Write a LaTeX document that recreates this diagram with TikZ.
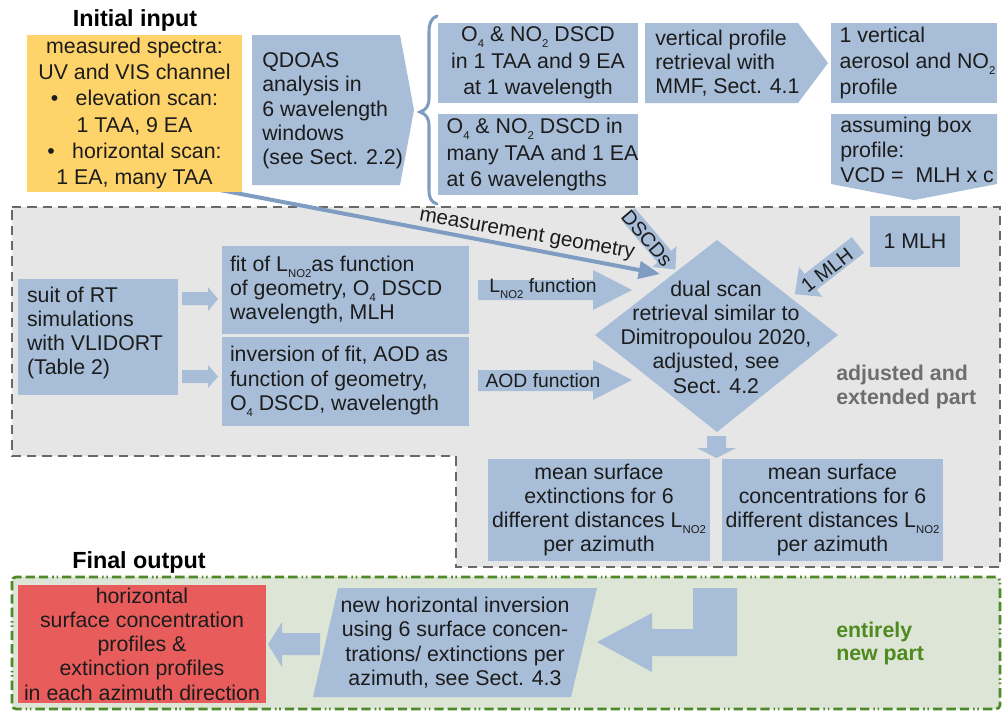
\documentclass[tikz,border=0pt]{standalone}
\usepackage{fontspec}
\setmainfont{Liberation Sans}
\usetikzlibrary{arrows.meta}
\definecolor{boxblue}{HTML}{A8BED8}
\definecolor{lineblue}{HTML}{7F9DC2}
\definecolor{ylw}{HTML}{FDD36A}
\definecolor{redbox}{HTML}{E85C5C}
\definecolor{grayfill}{HTML}{E6E6E6}
\definecolor{grayline}{HTML}{686868}
\definecolor{greenline}{HTML}{4F8A2A}
\definecolor{greenfill}{HTML}{DCE5D6}
\definecolor{greentext}{HTML}{4E8A1E}
\definecolor{graytext}{HTML}{6E6E6E}
\definecolor{txt}{HTML}{1C1C1C}
\newcommand{\lsub}[1]{\raisebox{-4.5pt}{\fontsize{8.5}{8.5}\selectfont #1}}
\tikzset{
  body/.style={font=\fontsize{16}{18.2}\selectfont, text=txt, inner sep=0pt},
  wide/.style={font=\fontsize{16}{19.8}\selectfont},
  box/.style={body, fill=boxblue, inner sep=0pt},
  lbl/.style={font=\fontsize{14.5}{16}\selectfont, text=txt, inner sep=0pt},
  title/.style={font=\fontsize{17.5}{20}\selectfont\bfseries, text=black, inner sep=0pt},
  blk/.style={fill=boxblue},
  grayregion/.style={draw=grayline, fill=grayfill, line width=2.2pt, dash pattern=on 7pt off 4.5pt},
  greenregion/.style={draw=greenline, fill=greenfill, line width=2pt, rounded corners=3pt,
    dash pattern=on 7pt off 3pt on 7pt off 3pt on 7pt off 3pt on 1.2pt off 2pt on 1.2pt off 3pt},
  bracestyle/.style={draw=lineblue, line width=2.3pt, line cap=round},
}
\begin{document}
\begin{tikzpicture}[x=0.75pt,y=-0.75pt]
\useasboundingbox (0,0) rectangle (1003,714);
\fill[white] (0,0) rectangle (1003,714);

% regions
\draw[grayregion] (12,207) -- (1000,207) -- (1000,567) -- (456,567) -- (456,456) -- (12,456) -- cycle;
\draw[greenregion] (12,577) rectangle (1000,709);

% titles
\node[title] (tin) at (135,20) {Initial input};
\node[title] (tout) at (139,562) {Final output};

% measurement geometry connector
\coordinate (mgs) at (220,190);
\coordinate (mge) at (660,274);
\draw[lineblue, line width=3pt, -{Triangle[length=16pt,width=13pt]}] (mgs) -- (mge);
\node[font=\fontsize{15.5}{17}\selectfont, text=txt, inner sep=0pt, rotate=-10] (mglbl) at (527,235) {measurement geometry};

% input box
\node[body, fill=ylw, minimum width=161.25pt, minimum height=117.75pt, align=center,
  font=\fontsize{16}{19.6}\selectfont] (inp) at (134.5,113.5)
  {measured spectra:\\UV and VIS channel\\\textbullet\hspace{13pt}elevation scan:\\1 TAA, 9 EA\\\textbullet\hspace{13pt}horizontal scan:\\1 EA, many TAA};

% QDOAS chevron
\fill[boxblue] (252,35) -- (400,35) -- (414,110) -- (400,185) -- (252,185) -- cycle;
\node[body, anchor=west, align=left] (qdoas) at (262,111)
  {QDOAS\\analysis in\\6 wavelength\\windows\\(see Sect. 2.2)};

% brace
\draw[bracestyle] (437,16) .. controls (431,18) and (429,24) .. (429,32) -- (429,98)
  .. controls (429,106) and (426,110) .. (420,112) .. controls (426,114) and (429,118) .. (429,126)
  -- (429,190) .. controls (429,198) and (431,202) .. (437,204);

% top row
\node[box, wide, minimum width=150pt, minimum height=60pt, align=center] (dA) at (538,63)
  {O\lsub{4} \& NO\lsub{2} DSCD\\in 1 TAA and 9 EA\\at 1 wavelength};
\node[box, minimum width=150pt, minimum height=60.75pt] (dB) at (538,154.5) {};
\node[body, wide, anchor=west, align=left] (dBt) at ([xshift=6.5pt]dB.west)
  {O\lsub{4} \& NO\lsub{2} DSCD in\\many TAA and 1 EA\\at 6 wavelengths};
\fill[boxblue] (645,23) -- (798,23) -- (828,63) -- (798,103) -- (645,103) -- cycle;
\node[body, anchor=west, align=left] (vp) at (655,63)
  {vertical profile\\retrieval with\\MMF, Sect. 4.1};
\node[box, minimum width=124.5pt, minimum height=60pt] (vprof) at (914,63) {};
\node[body, wide, anchor=west, align=left] (vproft) at ([xshift=6.5pt]vprof.west)
  {1 vertical\\aerosol and NO\lsub{2}\\profile};
\fill[boxblue] (831,114) -- (997,114) -- (997,184) -- (914,200) -- (831,184) -- cycle;
\node[body, anchor=west, align=left, font=\fontsize{16}{19}\selectfont] (boxp) at (840,150)
  {assuming box\\profile:\\VCD =\ \ MLH x c};

% MLH
\node[box, minimum width=67.5pt, minimum height=38.25pt, align=center] (mlh) at (915,241.5) {1 MLH};
\begin{scope}[shift={(858,245)}, rotate=217.9]
  \fill[boxblue] (0,-10) -- (60,-10) -- (60,-19) -- (80,0) -- (60,19) -- (60,10) -- (0,10) -- cycle;
\end{scope}
\node[lbl, font=\fontsize{15}{16}\selectfont, rotate=37.9] (mlhlbl) at (827,270) {1 MLH};

% DSCDs
\begin{scope}[shift={(628,214)}, rotate=-49.5]
  \fill[boxblue] (0,-9) -- (56,-9) -- (56,-16) -- (73,0) -- (56,16) -- (56,9) -- (0,9) -- cycle;
\end{scope}
\node[lbl, font=\fontsize{15}{16}\selectfont, rotate=-49.5] (dscdlbl) at (647,238) {DSCDs};

% RT part
\node[box, minimum width=120pt, minimum height=87pt] (suit) at (98,337) {};
\node[body, anchor=west, align=left] (suitt) at ([xshift=6.75pt,yshift=3pt]suit.west)
  {suit of RT\\simulations\\with VLIDORT\\(Table 2)};
\node[box, minimum width=185.25pt, minimum height=66pt] (fit) at (345.5,290) {};
\node[body, anchor=west, align=left] (fitt) at ([xshift=6pt]fit.west)
  {fit of L\lsub{NO2}as function\\of geometry, O\lsub{4} DSCD\\wavelength, MLH};
\node[box, minimum width=185.25pt, minimum height=66.75pt] (inv) at (345.5,381.5) {};
\node[body, anchor=west, align=left] (invt) at ([xshift=6pt]inv.west)
  {inversion of fit, AOD as\\function of geometry,\\O\lsub{4} DSCD, wavelength};
\fill[blk] (182,292) -- (208,292) -- (208,287) -- (218,299) -- (208,311) -- (208,305) -- (182,305) -- cycle;
\fill[blk] (182,370) -- (208,370) -- (208,365) -- (218,376.5) -- (208,388) -- (208,383) -- (182,383) -- cycle;

% function arrows
\fill[blk] (478,280) -- (593,280) -- (593,270) -- (632,290) -- (593,310) -- (593,300) -- (478,300) -- cycle;
\node[lbl] (lfun) at (543,289) {L\lsub{NO2} function};
\fill[blk] (478,370) -- (593,370) -- (593,360) -- (632,380) -- (593,400) -- (593,391) -- (478,391) -- cycle;
\node[lbl] (afun) at (543,381) {AOD function};

% diamond
\fill[boxblue] (717,240) -- (838,335) -- (717,432) -- (595,335) -- cycle;
\node[body, align=center] (dual) at (716,337)
  {dual scan\\retrieval similar to\\Dimitropoulou 2020,\\adjusted, see\\Sect. 4.2};
\fill[blk] (707,436) -- (726,436) -- (726,448) -- (736,448) -- (716.5,458) -- (697,448) -- (707,448) -- cycle;

\node[font=\fontsize{16}{17.5}\selectfont\bfseries, text=graytext, anchor=west, align=left, inner sep=0pt] (adj) at (836,387)
  {adjusted and\\extended part};

% mean boxes
\node[box, minimum width=166.5pt, minimum height=76.5pt, align=center] (mext) at (599,510)
  {mean surface\\extinctions for 6\\different distances L\lsub{NO2}\\per azimuth};
\node[box, minimum width=165.75pt, minimum height=76.5pt, align=center] (mcon) at (832.5,510)
  {mean surface\\concentrations for 6\\different distances L\lsub{NO2}\\per azimuth};

% final part
\node[body, fill=redbox, minimum width=186pt, minimum height=88.5pt, align=center] (res) at (142,644)
  {horizontal\\surface concentration\\profiles \&\\extinction profiles\\in each azimuth direction};
\fill[blk] (320,633) -- (282,633) -- (282,622) -- (268,644.5) -- (282,667) -- (282,655) -- (320,655) -- cycle;
\fill[boxblue] (338,588) -- (597,588) -- (571,697) -- (313,697) -- cycle;
\node[body, align=center] (hinv) at (455,642.5)
  {new horizontal inversion\\using 6 surface concen-\\trations/ extinctions per\\azimuth, see Sect. 4.3};
\fill[blk] (693,588) -- (737,588) -- (737,656) -- (652,656) -- (652,672) -- (597,642) -- (652,613) -- (652,629) -- (693,629) -- cycle;
\node[font=\fontsize{16}{17.5}\selectfont\bfseries, text=greentext, anchor=west, align=left, inner sep=0pt] (newp) at (836,643.5)
  {entirely\\new part};
\end{tikzpicture}
\end{document}
